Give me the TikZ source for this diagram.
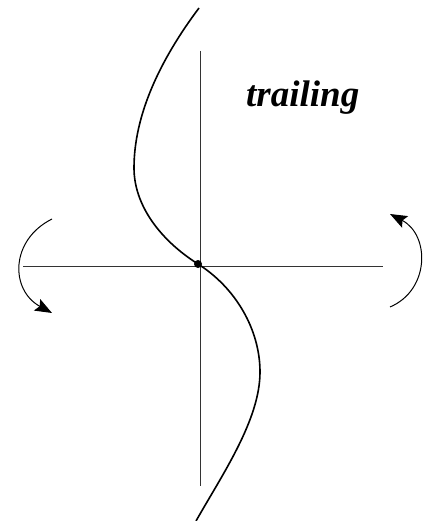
\documentclass[tikz,border=0pt]{standalone}
\usepackage{fontspec}
\setmainfont{Liberation Serif}
\usetikzlibrary{arrows.meta}
\begin{document}
\begin{tikzpicture}[x=1pt,y=-1pt,
  axis/.style={line width=0.9pt,black!80},
  curvestyle/.style={line width=1.6pt,black},
  rot/.style={line width=1pt,black,-{Stealth[length=17pt,width=13pt,inset=3pt]}}]
\useasboundingbox[fill=white] (0,0) rectangle (435,521);
\coordinate (vt) at (200,51);
\coordinate (vb) at (200,486);
\coordinate (hl) at (23,266);
\coordinate (hr) at (383,266);
\draw[axis] (vt) -- (vb);
\draw[axis] (hl) -- (hr);
\coordinate (ct) at (199,8);
\coordinate (cl) at (134,168);
\coordinate (cr) at (260,372);
\coordinate (cb) at (196,521);
\node[circle,fill=black,inner sep=0pt,minimum size=8pt] (o) at (198,264) {};
\draw[curvestyle] (ct) .. controls (160,60) and (134,115) .. (cl)
  .. controls (134,205) and (160,240) .. (o.center)
  .. controls (236,288) and (260,330) .. (cr)
  .. controls (260,420) and (222,475) .. (cb);
\coordinate (la) at (52,219);
\coordinate (lb) at (52,313);
\draw[rot] (la) .. controls (10,240) and (10,290) .. (lb);
\coordinate (ra) at (390,307);
\coordinate (rb) at (390,214);
\draw[rot] (ra) .. controls (430,290) and (430,235) .. (rb);
\node[font=\bfseries\itshape\fontsize{37}{40}\selectfont,inner sep=0pt,anchor=base west] (t) at (246,107) {trailing};
\end{tikzpicture}
\end{document}
